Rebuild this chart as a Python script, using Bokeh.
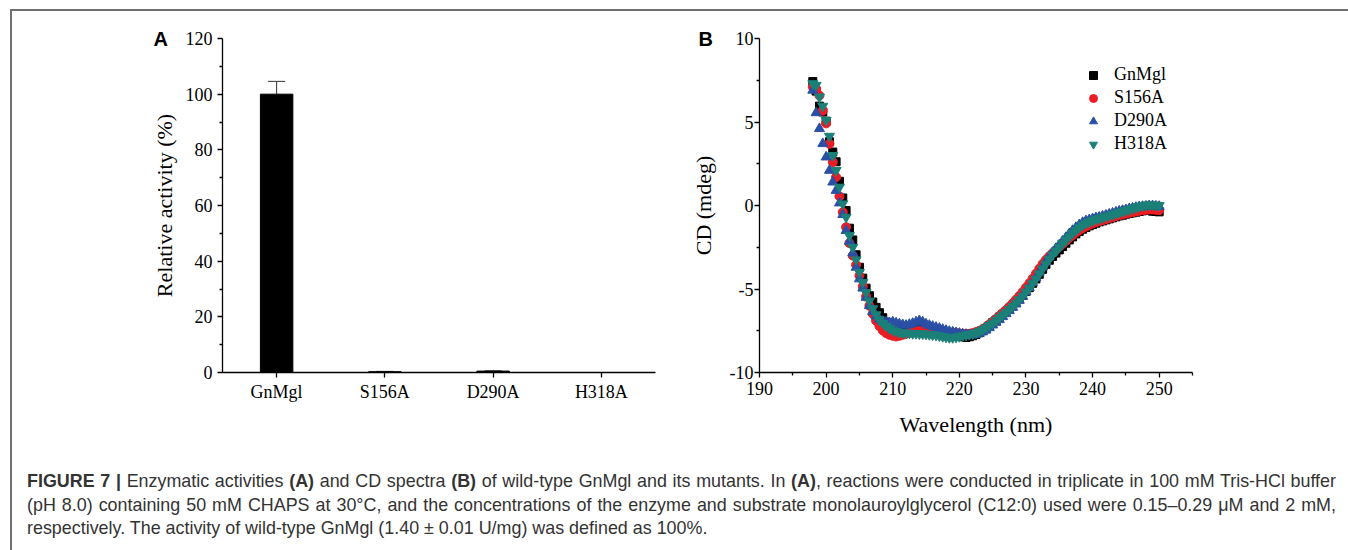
import numpy as np
from bokeh.plotting import figure
from bokeh.models import (FactorRange, Range1d, FixedTicker, Whisker, TeeHead,
                          Legend, LegendItem, Div, ColumnDataSource, Column, Row,
                          CustomJSTickFormatter)
from bokeh.embed import file_html
from bokeh.resources import INLINE

SERIF = "Liberation Serif"

# ---------------- Panel A data ----------------
variants = ["GnMgl", "S156A", "D290A", "H318A"]
activity = [100.0, 0.3, 0.5, 0.0]
activity_err = [4.6, 0.1, 0.1, 0.0]

# ---------------- Panel B data (CD spectra, 198-250 nm, 0.5 nm step) ----------------
wl_start = 198.0
wl_step = 0.5
cd_gnmgl = [7.42, 6.85, 5.95, 5.60, 5.05, 3.82, 3.20, 2.62, 1.45, 0.45,
            -0.30, -1.36, -2.06, -2.95, -3.70, -4.35, -4.95, -5.40, -5.78, -6.10,
            -6.42, -6.72, -6.98, -7.15, -7.30, -7.40, -7.48, -7.52, -7.55, -7.52,
            -7.50, -7.46, -7.42, -7.45, -7.50, -7.54, -7.58, -7.62, -7.65, -7.68,
            -7.70, -7.74, -7.76, -7.80, -7.82, -7.86, -7.90, -7.86, -7.80, -7.72,
            -7.62, -7.50, -7.38, -7.20, -7.02, -6.86, -6.68, -6.52, -6.36, -6.18,
            -6.02, -5.80, -5.60, -5.38, -5.15, -4.92, -4.66, -4.40, -4.12, -3.82,
            -3.52, -3.28, -3.05, -2.85, -2.66, -2.46, -2.26, -2.06, -1.88, -1.70,
            -1.55, -1.42, -1.32, -1.22, -1.14, -1.06, -0.98, -0.92, -0.86, -0.80,
            -0.74, -0.68, -0.62, -0.58, -0.52, -0.48, -0.44, -0.40, -0.36, -0.32,
            -0.30, -0.30, -0.34, -0.36, -0.38]
cd_s156a = [7.10, 6.98, 6.58, 5.68, 4.92, 3.70, 2.60, 1.70, 0.55, -0.40,
            -1.30, -2.25, -3.00, -3.55, -4.20, -4.85, -5.45, -6.00, -6.48, -6.90,
            -7.22, -7.48, -7.64, -7.74, -7.80, -7.84, -7.80, -7.74, -7.68, -7.62,
            -7.58, -7.55, -7.50, -7.48, -7.50, -7.52, -7.54, -7.55, -7.56, -7.58,
            -7.60, -7.62, -7.62, -7.64, -7.66, -7.68, -7.70, -7.68, -7.64, -7.58,
            -7.50, -7.40, -7.28, -7.12, -6.96, -6.80, -6.62, -6.44, -6.26, -6.06,
            -5.86, -5.64, -5.42, -5.18, -4.92, -4.66, -4.38, -4.08, -3.78, -3.50,
            -3.25, -3.04, -2.85, -2.66, -2.48, -2.30, -2.12, -1.94, -1.78, -1.62,
            -1.48, -1.36, -1.26, -1.16, -1.08, -1.00, -0.94, -0.88, -0.82, -0.76,
            -0.70, -0.64, -0.58, -0.54, -0.48, -0.44, -0.40, -0.36, -0.32, -0.28,
            -0.26, -0.24, -0.24, -0.26, -0.28]
cd_d290a = [6.90, 5.55, 4.60, 3.70, 2.90, 2.10, 1.40, 0.90, 0.15, -0.55,
            -1.50, -2.15, -2.85, -3.70, -4.40, -4.95, -5.50, -6.00, -6.35, -6.62,
            -6.82, -6.94, -7.00, -7.02, -6.98, -7.04, -7.10, -7.14, -7.18, -7.12,
            -7.06, -6.98, -6.90, -6.98, -7.10, -7.18, -7.24, -7.30, -7.36, -7.42,
            -7.48, -7.54, -7.58, -7.62, -7.66, -7.70, -7.72, -7.74, -7.76, -7.72,
            -7.66, -7.56, -7.46, -7.32, -7.16, -7.00, -6.84, -6.66, -6.48, -6.30,
            -6.10, -5.90, -5.68, -5.44, -5.18, -4.92, -4.62, -4.32, -4.00, -3.68,
            -3.36, -3.08, -2.82, -2.58, -2.36, -2.14, -1.92, -1.70, -1.50, -1.32,
            -1.16, -1.02, -0.92, -0.86, -0.80, -0.74, -0.70, -0.64, -0.58, -0.52,
            -0.46, -0.40, -0.34, -0.30, -0.26, -0.20, -0.16, -0.12, -0.08, -0.06,
            -0.04, -0.02, -0.02, -0.04, -0.06]
cd_h318a = [7.30, 7.20, 6.50, 5.95, 5.10, 4.15, 3.00, 2.10, 1.10, 0.10,
            -0.70, -1.80, -2.50, -3.25, -4.00, -4.60, -5.20, -5.72, -6.18, -6.54,
            -6.84, -7.06, -7.22, -7.36, -7.46, -7.54, -7.60, -7.62, -7.64, -7.64,
            -7.66, -7.66, -7.68, -7.68, -7.70, -7.72, -7.74, -7.76, -7.80, -7.84,
            -7.88, -7.90, -7.90, -7.88, -7.84, -7.80, -7.76, -7.72, -7.68, -7.62,
            -7.54, -7.44, -7.32, -7.18, -7.04, -6.88, -6.72, -6.56, -6.40, -6.22,
            -6.04, -5.84, -5.64, -5.42, -5.18, -4.94, -4.68, -4.40, -4.10, -3.80,
            -3.50, -3.22, -2.96, -2.72, -2.50, -2.28, -2.06, -1.86, -1.66, -1.48,
            -1.32, -1.18, -1.06, -0.98, -0.90, -0.84, -0.78, -0.72, -0.66, -0.60,
            -0.54, -0.48, -0.42, -0.36, -0.30, -0.24, -0.18, -0.12, -0.06, -0.02,
            0.02, 0.04, 0.04, 0.02, 0.00]
wavelength = [wl_start + wl_step * i for i in range(len(cd_gnmgl))]

series_names = ["GnMgl", "S156A", "D290A", "H318A"]
series_values = [cd_gnmgl, cd_s156a, cd_d290a, cd_h318a]
series_markers = ["square", "circle", "triangle", "inverted_triangle"]
series_colors = ["#000000", "#ec1c24", "#2a4fa5", "#1b8077"]
series_sizes = [8, 9, 10, 10]

a_yticks = [0, 20, 40, 60, 80, 100, 120]
a_yminor = [10, 30, 50, 70, 90, 110]
b_xticks = [190, 200, 210, 220, 230, 240, 250]
b_xminor = [195, 205, 215, 225, 235, 245, 255]
b_yticks = [-10, -5, 0, 5, 10]
b_yminor = [-7.5, -2.5, 2.5, 7.5]

caption_lines = [
    "<b>FIGURE 7 |</b> Enzymatic activities <b>(A)</b> and CD spectra <b>(B)</b> of wild-type GnMgl and its mutants. In <b>(A)</b>, reactions were conducted in triplicate in 100 mM Tris-HCl buffer",
    "(pH 8.0) containing 50 mM CHAPS at 30\u00b0C, and the concentrations of the enzyme and substrate monolauroylglycerol (C12:0) used were 0.15\u20130.29 \u03bcM and 2 mM,",
    "respectively. The activity of wild-type GnMgl (1.40 \u00b1 0.01 U/mg) was defined as 100%.",
]

fmt = CustomJSTickFormatter(code="return String(tick);")


def style_axis(ax, label, label_standoff, tick_standoff):
    ax.axis_label = label
    ax.axis_label_text_font = SERIF
    ax.axis_label_text_font_size = "22px"
    ax.axis_label_text_font_style = "normal"
    ax.axis_label_text_color = "black"
    ax.axis_label_standoff = label_standoff
    ax.major_label_text_font = SERIF
    ax.major_label_text_font_size = "18px"
    ax.major_label_text_color = "black"
    ax.major_label_standoff = tick_standoff
    ax.axis_line_color = "black"
    ax.axis_line_width = 1.3
    ax.major_tick_line_color = "black"
    ax.major_tick_line_width = 1.3
    ax.minor_tick_line_color = "black"
    ax.minor_tick_line_width = 1.3
    ax.major_tick_in = 0
    ax.major_tick_out = 5
    ax.minor_tick_in = 0
    ax.minor_tick_out = 3


def style_panel_title(p, letter, offset):
    p.title.text = letter
    p.title.align = "left"
    p.title.vertical_align = "bottom"
    p.title.offset = offset
    p.title.standoff = -22
    p.title.text_font = "Liberation Sans"
    p.title.text_font_style = "bold"
    p.title.text_font_size = "20px"
    p.title.text_color = "black"


# ---------------- Panel A ----------------
pA = figure(width=670, height=437, x_range=FactorRange(*variants), y_range=Range1d(0, 120),
            output_backend="svg", toolbar_location=None, title="A",
            min_border_left=210, min_border_right=27, min_border_top=27, min_border_bottom=76)
pA.outline_line_color = None
pA.xgrid.visible = False
pA.ygrid.visible = False
srcA = ColumnDataSource(dict(x=variants, top=activity,
                             upper=[a + e for a, e in zip(activity, activity_err)]))
pA.vbar(x="x", top="top", width=0.3, source=srcA, fill_color="black", line_color="black")
pA.add_layout(Whisker(base="x", upper="upper", lower="top", source=srcA,
                      upper_head=TeeHead(size=17, line_color="#333333", line_width=1),
                      lower_head=None, line_color="#333333", line_width=1))
style_axis(pA.yaxis[0], "Relative activity (%)", 6, 5)
style_axis(pA.xaxis[0], "", 5, 4)
pA.yaxis[0].ticker = FixedTicker(ticks=a_yticks, minor_ticks=a_yminor)
pA.yaxis[0].formatter = fmt
style_panel_title(pA, "A", -69)

# ---------------- Panel B ----------------
pB = figure(width=656, height=437, x_range=Range1d(190, 255), y_range=Range1d(-10, 10),
            output_backend="svg", toolbar_location=None, title="B",
            min_border_left=77, min_border_right=146, min_border_top=27, min_border_bottom=76)
pB.outline_line_color = None
pB.xgrid.visible = False
pB.ygrid.visible = False
items = []
for name, vals, mk, col, sz in zip(series_names, series_values, series_markers,
                                   series_colors, series_sizes):
    r = pB.scatter(wavelength, vals, marker=mk, size=sz, fill_color=col, line_color=col)
    items.append(LegendItem(label=name, renderers=[r]))
style_axis(pB.xaxis[0], "Wavelength (nm)", 14, 4)
style_axis(pB.yaxis[0], "CD (mdeg)", 11, 1)
pB.xaxis[0].ticker = FixedTicker(ticks=b_xticks, minor_ticks=b_xminor)
pB.yaxis[0].ticker = FixedTicker(ticks=b_yticks, minor_ticks=b_yminor)
pB.xaxis[0].formatter = fmt
pB.yaxis[0].formatter = fmt
legend = Legend(items=items, location=(324, 217), border_line_color=None,
                background_fill_alpha=0, padding=0, margin=0, spacing=0,
                label_height=23, glyph_height=20, glyph_width=20, label_standoff=11,
                label_text_font=SERIF, label_text_font_size="18px", label_text_color="black")
pB.add_layout(legend)
style_panel_title(pB, "B", -61)

# ---------------- Caption ----------------
line_style_j = "text-align:justify;text-align-last:justify;"
line_style_l = "text-align:left;white-space:nowrap;"
cap_html = ("<div style=\"font-family:'Liberation Sans',Arial,sans-serif;font-size:17.9px;"
            "line-height:23.5px;color:#333333;box-sizing:content-box;"
            "padding:17px 0 0 10px;width:1309px;\">"
            + "".join("<div style=\"%s\">%s</div>" % (line_style_j if i < 2 else line_style_l, t)
                      for i, t in enumerate(caption_lines))
            + "</div>")
cap = Div(text=cap_html, width=1334, height=94)

layout = Column(children=[Row(children=[pA, pB]), cap],
                styles={"border-left": "2px solid #707070", "border-top": "2px solid #707070",
                        "margin-left": "10px", "margin-top": "9px"})

open("out.html", "w").write(file_html(layout, INLINE))
